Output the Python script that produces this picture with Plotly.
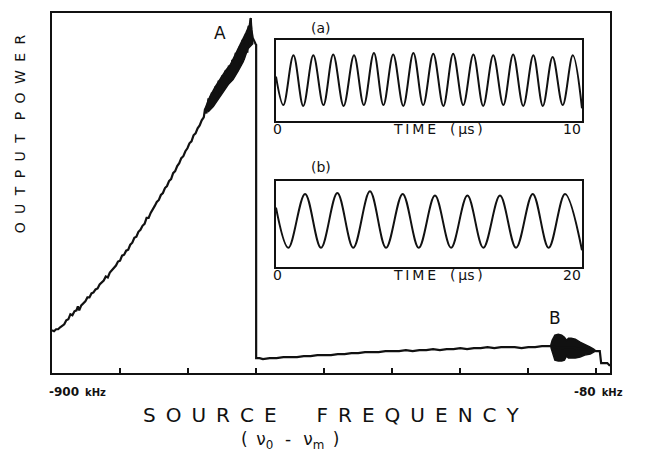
import plotly.graph_objects as go

# ---------------- data ----------------
# main trace: source frequency (kHz) vs output power (arb. units)
main_khz = [-900, -897, -894, -891, -888, -885, -882, -879, -876, -873, -870, -867, -864, -862, -860,
            -857, -854, -851, -848, -845, -842, -839, -836, -833, -830, -827, -824, -821, -818, -815,
            -812, -809, -806, -803, -800, -797, -794, -791, -788, -785, -782, -779, -776, -773, -770,
            -767, -764, -761, -758, -755, -752, -749, -746, -743, -740, -737, -734, -731, -728, -725,
            -722, -719, -716, -713, -710, -707, -704, -701, -698, -695, -692, -689, -686, -683, -680,
            -677, -675, -673, -670, -668, -665, -663, -660, -658, -655, -653, -650, -648, -645, -643,
            -640, -638, -635, -633, -630, -628, -625, -623, -620, -618, -615, -613, -611, -610, -608,
            -607, -605, -603, -601, -600, -600, -595, -590, -580, -570, -560, -550, -540, -530, -520,
            -510, -500, -490, -480, -470, -460, -450, -440, -430, -420, -410, -400, -390, -380, -370,
            -360, -350, -340, -330, -320, -310, -300, -290, -280, -270, -260, -250, -240, -230, -220,
            -210, -200, -190, -180, -170, -165, -160, -150, -140, -130, -120, -110, -104, -100, -96,
            -95, -93, -84, -81, -80]
main_pow = [43, 42, 44, 44, 46, 48, 49, 53, 54, 59, 58, 62, 63, 67, 63,
            68, 70, 72, 76, 76, 80, 81, 84, 85, 89, 91, 93, 97, 96, 101,
            103, 106, 108, 112, 113, 118, 119, 123, 124, 129, 131, 136, 137, 142, 144,
            148, 150, 156, 156, 161, 164, 168, 172, 174, 179, 181, 186, 188, 193, 195,
            201, 203, 208, 211, 216, 218, 223, 226, 231, 233, 239, 241, 246, 249, 254,
            257, 266, 261, 276, 266, 282, 270, 288, 276, 294, 281, 299, 284, 304, 289,
            309, 293, 315, 297, 322, 303, 328, 309, 335, 315, 341, 322, 349, 333, 357,
            345, 337, 333, 331, 330, 15, 15, 14, 15, 15, 16, 16, 16, 17, 17,
            18, 18, 18, 19, 19, 20, 20, 21, 21, 21, 22, 22, 22, 23, 22,
            23, 23, 24, 23, 24, 24, 25, 24, 25, 25, 26, 25, 26, 26, 26,
            25, 26, 26, 27, 27, 27, 26, 25, 26, 25, 24, 23, 22, 22, 22,
            22, 10, 10, 8, 8]

# noisy band near A (envelope)
band_khz = [-675, -668, -660, -653, -645, -638, -630, -623, -615, -610, -608,
            -605, -612, -619, -627, -634, -641, -649, -656, -663, -670, -675]
band_pow = [266, 278, 288, 296, 304, 310, 322, 331, 342, 350, 357,
            331, 326, 313, 303, 295, 290, 282, 276, 268, 263, 266]

# oscillation burst near B (envelope)
burst_khz = [-167, -165, -161, -156, -151, -147, -144, -141, -137, -131, -124, -117, -109, -104, -101,
             -104, -109, -117, -124, -131, -137, -141, -144, -147, -151, -156, -161, -165, -167]
burst_pow = [28, 33, 38, 39, 38, 36, 33, 35, 35, 34, 31, 29, 26, 24, 22,
             21, 19, 18, 16, 15, 15, 15, 17, 13, 12, 12, 13, 21, 26]

# inset (a): time (us) vs signal, extrema
a_time = [0, 0.24, 0.57, 0.89, 1.22, 1.55, 1.87, 2.21, 2.55, 2.87, 3.20, 3.51, 3.83, 4.16, 4.49, 4.81,
          5.14, 5.47, 5.79, 6.12, 6.45, 6.77, 7.10, 7.43, 7.75, 8.08, 8.41, 8.72, 9.04, 9.37, 9.70, 10.0]
a_sig = [0.55, 0.20, 0.81, 0.19, 0.81, 0.20, 0.82, 0.19, 0.81, 0.20, 0.84, 0.20, 0.82, 0.19, 0.84, 0.20,
         0.83, 0.19, 0.83, 0.20, 0.82, 0.19, 0.81, 0.20, 0.82, 0.19, 0.81, 0.19, 0.79, 0.20, 0.81, 0.16]

# inset (b)
b_time = [0, 0.81, 1.90, 2.94, 4.01, 5.05, 6.14, 7.19, 8.28, 9.33, 10.39, 11.44, 12.51, 13.55,
          14.64, 15.69, 16.78, 17.82, 18.89, 20.0]
b_sig = [0.69, 0.22, 0.85, 0.22, 0.86, 0.22, 0.88, 0.22, 0.85, 0.22, 0.83, 0.22, 0.83, 0.22,
         0.83, 0.22, 0.85, 0.22, 0.85, 0.19]

x_ticks = [-900, -800, -700, -600, -500, -400, -300, -200, -100]

# ---------------- figure ----------------
INK = "#111111"
FONT = "DejaVu Sans"
OFF = 8  # page body margin

fig = go.Figure()
for xs, ys in ((band_khz, band_pow), (burst_khz, burst_pow)):
    fig.add_trace(go.Scatter(x=xs, y=ys, mode="lines", fill="toself",
                             fillcolor=INK, line=dict(color=INK, width=1.5),
                             hoverinfo="skip", showlegend=False))
fig.add_trace(go.Scatter(x=main_khz, y=main_pow, mode="lines",
                         line=dict(color=INK, width=2.2), showlegend=False))
fig.add_trace(go.Scatter(x=a_time, y=a_sig, mode="lines", line=dict(color=INK, width=2, shape="spline"),
                         xaxis="x2", yaxis="y2", showlegend=False))
fig.add_trace(go.Scatter(x=b_time, y=b_sig, mode="lines", line=dict(color=INK, width=2, shape="spline"),
                         xaxis="x3", yaxis="y3", showlegend=False))

L, R, T, B = 52, 610, 11, 373
W, H = R - L, B - T


def px(x):
    return (x - L) / W


def py(y):
    return (B - y) / H


box = dict(showline=True, mirror=True, linecolor=INK, linewidth=1.5,
           showgrid=False, zeroline=False, showticklabels=False, ticks="")

fig.update_layout(
    width=645 - OFF, height=452 - OFF,
    margin=dict(l=L - OFF, r=645 - R, t=T - OFF, b=452 - B),
    paper_bgcolor="white", plot_bgcolor="white",
    font=dict(family=FONT, color=INK),
    xaxis=dict(range=[-900, -80], tickvals=x_ticks, ticks="inside", ticklen=5, tickwidth=1.5,
               tickcolor=INK, showticklabels=False, showline=True, mirror=True,
               linecolor=INK, linewidth=1.5, showgrid=False, zeroline=False),
    yaxis=dict(range=[0, 362], showline=True, mirror=True, linecolor=INK, linewidth=1.5,
               showgrid=False, zeroline=False, showticklabels=False, ticks=""),
    xaxis2=dict(domain=[px(276), px(582)], anchor="y2", range=[0, 10], **box),
    yaxis2=dict(domain=[py(120), py(38)], anchor="x2", range=[0, 1], **box),
    xaxis3=dict(domain=[px(276), px(582)], anchor="y3", range=[0, 20], **box),
    yaxis3=dict(domain=[py(266), py(180)], anchor="x3", range=[0, 1], **box),
    showlegend=False,
)

EN = "\u2002"
TH = "\u2009"
HR = "\u200a"


def spaced(s, gap=EN):
    return gap.join(list(s))


ann = []


def add(text, x, y, size, xanchor="center", angle=0):
    ann.append(dict(text=text, x=px(x), y=py(y), xref="paper", yref="paper",
                    xanchor=xanchor, yanchor="middle", showarrow=False, textangle=angle,
                    font=dict(family=FONT, size=size, color=INK)))


time_lbl = spaced("TIME", TH) + EN + EN + "(" + TH + "μs" + TH + ")"
add("A", 220, 31, 17)
add("B", 555, 318, 17)
add("(a)", 321, 26, 14)
add("(b)", 321, 166, 14)
add("0", 277, 128, 14)
add(time_lbl, 438, 128, 14)
add("10", 572, 128, 14)
add("0", 277, 274, 14)
add(time_lbl, 438, 274, 14)
add("20", 572, 274, 14)
add("<b>-900</b>" + EN + "<span style='font-size:10px'><b>kHz</b></span>", 47, 392, 12, xanchor="left")
add("<b>-80</b>" + EN + "<span style='font-size:10px'><b>kHz</b></span>", 572, 392, 12, xanchor="left")
add(spaced("SOURCE", EN) + EN * 4 + spaced("FREQUENCY", EN), 331, 415, 20)
add("(" + EN + "ν<sub>0</sub>" + EN + TH + "-" + EN + TH + "ν<sub>m</sub>" + EN + ")", 290, 441, 17)
add(spaced("OUTPUT", EN + HR) + EN * 2 + spaced("POWER", EN + HR), 20, 133, 14, angle=-90)

fig.update_layout(annotations=ann)
fig.write_html("out.html")
